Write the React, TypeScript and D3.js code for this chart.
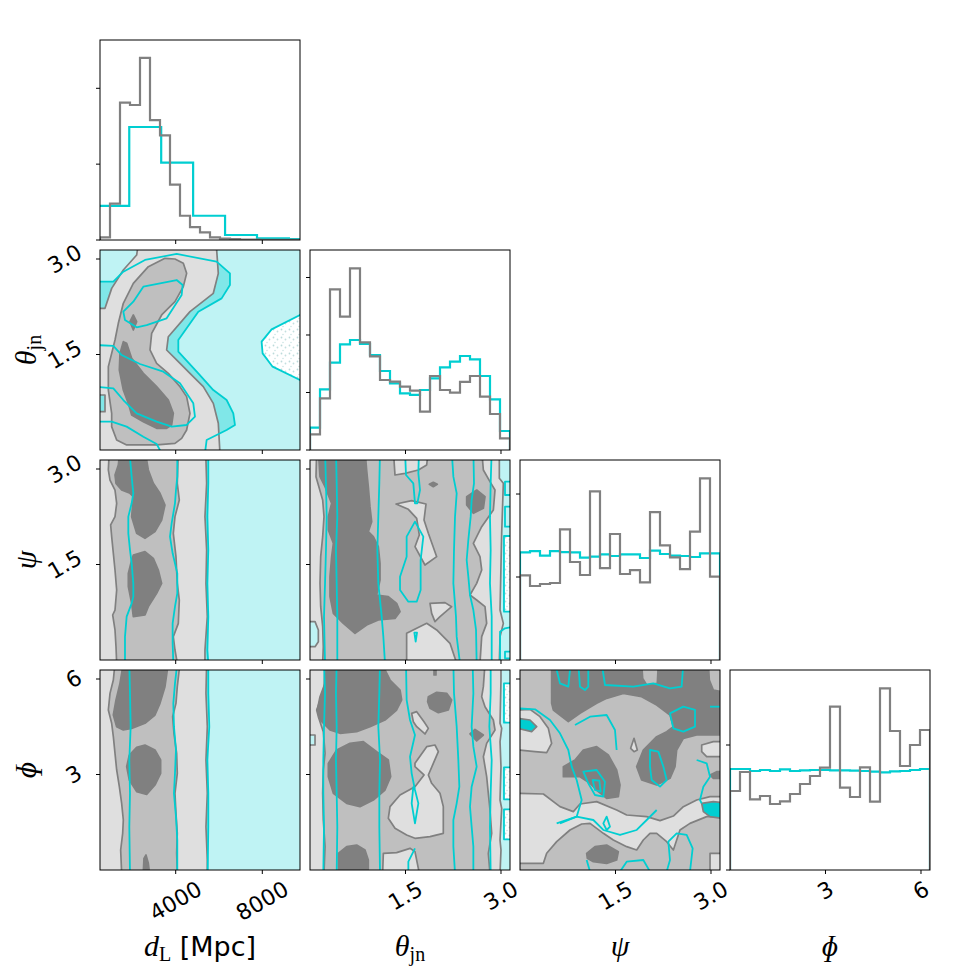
import React from 'react';
import * as d3 from 'd3';

const GRAY = '#808080';
const CYAN = '#00ced1';
const GRAY_FILL = ['none', '#dfdfdf', '#bfbfbf', '#808080'];
const CYAN_FILL = ['url(#dots)', '#bff3f4', '#80e7e8', '#00ced1'];

const LEFT = 100, TOP = 40, SIZE = 200, STEP = 210;

// axis ranges
const DL_RANGE = [504, 9741];
const TH_RANGE = [0, Math.PI];
const PSI_RANGE = [0, Math.PI];
const PHI_RANGE = [0, 2 * Math.PI];
const RANGES = [DL_RANGE, TH_RANGE, PSI_RANGE, PHI_RANGE];
const TICKS = [[4000, 8000], [1.5, 3.0], [1.5, 3.0], [3, 6]];
const TICK_LABELS = [['4000', '8000'], ['1.5', '3.0'], ['1.5', '3.0'], ['3', '6']];

// 1D histograms
const HIST_DL_GRAY = [0.035, 0.48, 1.81, 1.78, 2.40, 1.58, 1.38, 0.73, 0.32, 0.17, 0.10, 0.035, 0.018, 0.013, 0.006, 0.004, 0.003, 0.002, 0.002, 0.001];
const HIST_DL_CYAN_EDGES = [380, 1855, 3330, 4805, 6280, 7755, 9230, 10705];
const HIST_DL_CYAN = [0.45, 1.49, 1.02, 0.32, 0.066, 0.022, 0.013];
const HIST_TH_GRAY = [0.272, 0.899, 2.794, 2.319, 3.159, 1.872, 1.629, 1.217, 1.188, 1.101, 1.032, 0.667, 1.287, 1.043, 0.997, 1.183, 1.287, 0.928, 0.626, 0.203];
const HIST_TH_CYAN = [0.388, 1.055, 1.519, 1.838, 1.913, 1.843, 1.652, 1.374, 1.159, 0.986, 0.957, 1.043, 1.246, 1.438, 1.536, 1.635, 1.577, 1.287, 0.881, 0.330];
const HIST_PSI_GRAY = [1.020, 0.892, 0.916, 0.928, 1.574, 1.181, 1.024, 2.032, 1.108, 1.518, 1.036, 1.084, 0.936, 1.783, 1.382, 1.237, 1.096, 1.546, 2.189, 1.004];
const HIST_PSI_CYAN = [1.297, 1.313, 1.257, 1.313, 1.301, 1.297, 1.233, 1.245, 1.273, 1.253, 1.273, 1.273, 1.229, 1.317, 1.277, 1.257, 1.253, 1.241, 1.285, 1.285];
const HIST_PHI_GRAY = [0.632, 0.784, 0.565, 0.592, 0.528, 0.549, 0.608, 0.688, 0.752, 0.819, 1.307, 0.659, 0.584, 0.821, 0.547, 1.453, 1.112, 0.832, 1.0, 1.12];
const HIST_PHI_CYAN = [0.808, 0.808, 0.792, 0.8, 0.792, 0.805, 0.792, 0.797, 0.8, 0.8, 0.797, 0.797, 0.795, 0.792, 0.787, 0.781, 0.789, 0.792, 0.8, 0.808];
const HIST_YMAX = [2.637, 3.478, 2.41, 1.6];
const HIST_YTICKS = [[0, 1, 2], [0, 1, 2, 3], [0, 1, 2], [0, 1]];

// ---- 2D contours: flat [x, y, x, y, ...] in data units ----
// d_L vs theta_jn
const A_C2 = [300, 2.644, 1120, 2.644, 1581, 2.801, 2582, 2.985, 4044, 3.079, 5891, 2.958, 6506, 2.775, 6506, 2.592, 6121, 2.382, 5044, 2.173, 4121, 1.728, 4121, 1.545, 5044, 1.204, 5737, 0.942, 6352, 0.785, 6660, 0.576, 6737, 0.393, 6352, 0.314, 5429, 0.157, 5352, -0.05, 300, -0.05];
const A_C0 = [9900, 2.14, 9738, 2.121, 8430, 1.895, 7968, 1.702, 8014, 1.518, 8476, 1.309, 9738, 1.100, 9900, 1.09];
const A_G1 = [2300, 3.3, 2197, 3.063, 1581, 2.827, 1043, 2.539, 735, 2.225, 300, 2.225, 300, -0.05, 6044, -0.05, 5968, 0.419, 5737, 0.733, 5275, 0.995, 4659, 1.204, 4121, 1.388, 3582, 1.571, 3659, 1.780, 4659, 2.173, 5737, 2.461, 5968, 2.775, 5860, 3.3];
const A_G2 = [3505, 3.011, 2736, 2.880, 2043, 2.618, 1581, 2.304, 1350, 1.990, 1197, 1.728, 889, 1.309, 889, 0.942, 1043, 0.576, 1043, 0.367, 1274, 0.157, 1735, 0.079, 3120, 0.079, 3967, 0.105, 4275, 0.183, 4505, 0.314, 4659, 0.576, 4505, 0.838, 4198, 0.995, 3659, 1.204, 3120, 1.361, 2813, 1.571, 2890, 1.833, 3351, 2.121, 3967, 2.330, 4352, 2.566, 4505, 2.775, 4352, 2.932, 3967, 3.000];
const A_G3a = [1581, 1.702, 1735, 1.676, 1966, 1.440, 2505, 1.204, 3120, 0.995, 3659, 0.785, 3890, 0.576, 3813, 0.393, 3582, 0.340, 3120, 0.340, 2505, 0.445, 1966, 0.550, 1812, 0.733, 1581, 0.942, 1397, 1.257, 1427, 1.518];
const A_G3b = [2043, 2.121, 2197, 2.016, 2043, 1.885, 1889, 2.016];
const A_HOLE = [300, 0.864, 735, 0.864, 735, 0.602, 300, 0.602];
const A_L3a = [1581, 2.173, 2043, 2.330, 2505, 2.566, 4044, 2.670, 4321, 2.592, 4275, 2.435, 3582, 2.068, 2659, 1.963, 2197, 1.927, 1658, 2.042];
const A_L3b = [300, 1.649, 1120, 1.634, 1504, 1.492, 2351, 1.351, 3428, 1.230, 4198, 1.047, 4813, 0.733, 4890, 0.524, 4505, 0.393, 3813, 0.367, 3120, 0.445, 2197, 0.576, 1581, 0.785, 1120, 0.969, 300, 0.995];
const A_L3c = [300, 0.445, 1043, 0.445, 1735, 0.367, 2505, 0.209, 3120, 0.094, 3351, -0.05];

// d_L vs psi
const B_C2 = [300, 3.3, 5506, 3.3, 5506, -0.05, 300, -0.05];
const B_G1 = [300, 3.3, 5398, 3.3, 5398, 3.142, 5429, 2.775, 5352, 2.252, 5429, 1.728, 5398, 1.204, 5460, 0.681, 5352, 0.157, 5352, -0.05, 300, -0.05];
const B_G2 = [935, 3.3, 889, 2.985, 966, 2.827, 1197, 2.670, 1274, 2.461, 1197, 2.252, 996, 2.121, 1043, 1.937, 1120, 1.676, 1197, 1.414, 1274, 1.100, 1197, 0.785, 1089, 0.707, 1197, 0.472, 1243, 0.209, 1274, -0.05, 4074, -0.05, 3967, 0.157, 3890, 0.367, 4121, 0.576, 4167, 0.942, 4074, 1.204, 4013, 1.623, 3890, 1.990, 3967, 2.252, 4167, 2.513, 4074, 2.775, 4121, 3.3];
const B_G3a = [1427, 3.3, 2582, 3.3, 2736, 2.985, 2966, 2.775, 3274, 2.618, 3505, 2.435, 3351, 2.199, 3043, 2.016, 2582, 1.911, 2197, 1.990, 1966, 2.252, 2043, 2.566, 1889, 2.618, 1504, 2.670, 1243, 2.775, 1197, 2.906, 1350, 3.063];
const B_G3b = [2043, 1.649, 2582, 1.702, 2966, 1.597, 3197, 1.414, 3351, 1.204, 3120, 1.047, 2736, 0.838, 2582, 0.707, 2043, 0.681, 1966, 0.890, 1812, 1.152, 1812, 1.361, 1966, 1.571];
const B_L1 = [1858, 3.3, 1966, 2.880, 2043, 2.618, 1966, 2.461, 1812, 2.252, 1812, 1.990, 1889, 1.728, 1966, 1.518, 2043, 1.204, 2043, 0.995, 1966, 0.890, 1735, 0.681, 1658, 0.367, 1658, -0.05];
const B_L2 = [4074, 3.3, 4074, 2.880, 4013, 2.670, 3967, 2.461, 3813, 2.147, 3736, 1.937, 3859, 1.676, 4074, 1.361, 4074, 1.047, 3967, 0.838, 3859, 0.576, 3859, 0.262, 3890, -0.05];
const B_L3 = [5506, 3.3, 5506, 2.775, 5460, 2.252, 5506, 1.728, 5460, 1.204, 5506, 0.681, 5460, 0.157, 5506, -0.05];

// d_L vs phi
const C_C2 = [300, 6.5, 5506, 6.5, 5506, -0.1, 300, -0.1];
const C_G1 = [300, 6.5, 5429, 6.5, 5398, 5.550, 5460, 4.503, 5398, 3.456, 5460, 2.409, 5398, 1.361, 5460, 0.314, 5460, -0.1, 300, -0.1];
const C_G2 = [1197, 6.5, 1120, 5.969, 966, 5.550, 889, 5.027, 1043, 4.608, 1120, 4.189, 1197, 3.665, 1274, 3.142, 1397, 2.618, 1504, 2.094, 1581, 1.571, 1551, 1.152, 1458, 0.628, 1504, -0.1, 4074, -0.1, 4044, 0.524, 4074, 1.152, 4013, 1.780, 3967, 2.409, 4074, 3.037, 4044, 3.665, 3920, 4.294, 3859, 4.817, 4013, 5.236, 4074, 5.760, 4198, 6.5];
const C_G3a = [1581, 6.5, 3659, 6.5, 3505, 5.760, 3274, 5.236, 3043, 4.869, 2582, 4.608, 1966, 4.450, 1581, 4.398, 1274, 4.503, 1120, 4.869, 1243, 5.341, 1427, 5.864];
const C_G3b = [2197, 3.854, 2582, 3.927, 3043, 3.770, 3305, 3.456, 3305, 3.037, 3043, 2.670, 2659, 2.377, 2197, 2.461, 1858, 2.827, 1735, 3.246, 1858, 3.613];
const C_G3c = [2505, -0.05, 2535, 0.367, 2628, 0.471, 2736, 0.209, 2782, -0.05];
const C_L1 = [1858, 6.5, 1889, 5.550, 1920, 4.503, 1858, 3.456, 1889, 2.409, 1858, 1.361, 1889, -0.1];
const C_L2 = [4074, 6.5, 3967, 5.864, 3890, 5.236, 3920, 4.503, 4013, 3.770, 3967, 3.037, 3920, 2.409, 4013, 1.676, 4074, 0.942, 4074, -0.1];
const C_L3 = [5506, 6.5, 5506, 5.550, 5552, 4.503, 5460, 3.456, 5506, 2.409, 5506, 1.361, 5475, -0.1];

// theta_jn vs psi
const D_C0 = [3.047, 1.948, 3.2, 1.948, 3.2, 0.759, 3.047, 0.759];
const D_G1 = [-0.1, 3.3, 2.974, 3.3, 2.974, 2.854, 3.037, 2.775, 3.011, 1.990, 2.985, 0.785, 3.037, 0.576, 2.985, 0.367, 2.974, -0.05, -0.1, -0.05];
const D_HOLE = [-0.03, 0.602, 0.079, 0.602, 0.131, 0.472, 0.131, 0.288, 0.079, 0.209, -0.03, 0.209];
const D_G2 = [0.105, 3.3, 0.094, 2.880, 0.199, 2.513, 0.220, 2.252, 0.199, 1.937, 0.168, 1.623, 0.157, 1.204, 0.168, 0.838, 0.199, 0.524, 0.209, 0.209, 0.199, -0.05, 2.670, -0.05, 2.697, 0.367, 2.775, 0.576, 2.749, 0.838, 2.618, 0.942, 2.513, 1.021, 2.618, 1.204, 2.697, 1.414, 2.670, 1.623, 2.566, 1.833, 2.697, 2.094, 2.880, 2.356, 2.906, 2.670, 2.827, 2.801, 2.723, 2.985, 2.697, 3.3];
const D_I1 = [1.309, 3.3, 1.859, 3.3, 1.833, 3.063, 1.702, 2.985, 1.492, 2.932, 1.335, 2.906];
const D_I2 = [1.351, 2.450, 1.597, 2.503, 1.822, 2.450, 1.791, 2.199, 1.859, 1.990, 1.990, 1.623, 1.806, 1.492, 1.649, 1.780, 1.717, 1.963, 1.676, 2.225, 1.545, 2.367];
const D_I3 = [1.885, 0.890, 2.121, 0.901, 2.225, 0.838, 2.042, 0.681, 1.963, 0.602, 1.911, 0.733];
const D_I4 = [1.518, 0.419, 1.833, 0.576, 1.990, 0.472, 2.199, 0.262, 2.304, -0.05, 1.518, -0.05];
const D_G3a = [0.131, 3.3, 0.864, 3.3, 0.890, 2.985, 0.916, 2.723, 0.942, 2.409, 0.969, 2.173, 0.916, 2.016, 0.995, 1.937, 1.073, 1.780, 1.100, 1.518, 1.100, 1.257, 1.047, 1.021, 1.230, 0.995, 1.361, 0.890, 1.414, 0.759, 1.335, 0.654, 1.073, 0.628, 0.890, 0.550, 0.707, 0.419, 0.524, 0.576, 0.367, 0.733, 0.314, 0.995, 0.314, 1.309, 0.340, 1.623, 0.367, 1.833, 0.288, 2.042, 0.288, 2.252, 0.340, 2.461, 0.236, 2.723, 0.157, 2.880];
const D_G3b = [2.461, 2.566, 2.618, 2.670, 2.749, 2.566, 2.723, 2.382, 2.566, 2.304, 2.461, 2.435];
const D_G3c = [1.874, 2.759, 1.937, 2.791, 2.0, 2.759, 1.937, 2.723];
const D_L1 = [0.236, 3.3, 0.251, 2.775, 0.262, 2.252, 0.251, 1.728, 0.236, 1.204, 0.220, 0.681, 0.236, -0.05];
const D_L2 = [0.408, 3.3, 0.419, 2.775, 0.429, 2.252, 0.408, 1.728, 0.419, 1.204, 0.429, 0.681, 0.429, -0.05];
const D_L3 = [1.100, 3.3, 1.089, 2.775, 1.073, 2.252, 1.058, 1.728, 1.073, 1.204, 1.126, 0.681, 1.152, 0.367, 1.178, -0.05];
const D_L4 = [1.492, 3.3, 1.508, 2.906, 1.623, 2.775, 1.649, 2.461, 1.686, 2.461, 1.728, 2.670, 1.702, 2.932, 1.712, 3.3];
const D_L5 = [1.649, 2.173, 1.780, 1.937, 1.738, 1.571, 1.738, 1.100, 1.676, 0.916, 1.545, 0.916, 1.414, 1.100, 1.414, 1.309, 1.518, 1.623, 1.518, 1.937];
const D_L6 = [1.639, 0.429, 1.660, 0.288, 1.681, 0.429];
const D_L7 = [2.225, 3.3, 2.252, 2.880, 2.304, 2.618, 2.278, 2.252, 2.262, 1.728, 2.252, 1.204, 2.293, 0.681, 2.304, 0.367, 2.356, -0.05];
const D_L8 = [2.566, 3.3, 2.576, 2.775, 2.539, 2.513, 2.524, 2.252, 2.487, 1.885, 2.461, 1.571, 2.487, 1.309, 2.513, 1.021, 2.566, 0.785, 2.608, 0.472, 2.618, -0.05];
const D_L9 = [2.854, 3.3, 2.838, 2.775, 2.827, 2.252, 2.838, 1.728, 2.827, 1.204, 2.854, 0.681, 2.854, -0.05];
const D_B1 = [3.063, 2.801, 3.2, 2.801, 3.2, 2.592, 3.063, 2.592];
const D_B2 = [3.063, 2.409, 3.2, 2.409, 3.2, 2.094, 3.063, 2.094];
const D_B4 = [2.985, -0.05, 2.985, 0.445, 3.063, 0.497, 3.2, 0.524];
const D_B5 = [3.063, 0.131, 3.2, 0.131, 3.2, 0.026, 3.063, 0.026];

// theta_jn vs phi
const E_C0a = [3.047, 5.864, 3.2, 5.864, 3.2, 4.629, 3.047, 4.629];
const E_C0b = [3.047, 3.225, 3.2, 3.225, 3.2, 2.220, 3.047, 2.220];
const E_C0c = [3.047, 1.906, 3.2, 1.906, 3.2, 0.963, 3.047, 0.963];
const E_G1 = [-0.1, 6.5, 3.000, 6.5, 3.000, 5.969, 2.985, 4.608, 3.011, 4.450, 2.985, 4.032, 3.000, 3.246, 2.985, 2.199, 3.011, 1.937, 2.985, 0.942, 3.000, 0.628, 2.985, -0.1, -0.1, -0.1];
const E_HOLE = [-0.03, 4.241, 0.079, 4.241, 0.079, 3.927, -0.03, 3.927];
const E_G2 = [0.236, 6.5, 0.220, 5.655, 0.105, 5.027, 0.131, 4.817, 0.209, 4.346, 0.236, 3.665, 0.209, 3.142, 0.199, 2.409, 0.209, 1.571, 0.236, 0.733, 0.220, -0.1, 2.827, -0.1, 2.801, 0.524, 2.854, 1.152, 2.827, 1.885, 2.801, 2.409, 2.775, 2.932, 2.723, 3.560, 2.775, 3.979, 2.906, 4.398, 2.880, 4.712, 2.749, 5.131, 2.697, 5.445, 2.723, 5.760, 2.749, 6.5];
const E_I1 = [1.597, 4.922, 1.676, 4.974, 1.791, 4.660, 1.859, 4.450, 1.806, 4.273, 1.676, 4.503, 1.623, 4.660];
const E_I2 = [1.649, 3.351, 1.833, 3.875, 1.963, 3.927, 2.016, 3.718, 1.937, 3.351, 1.859, 2.985, 1.911, 2.723, 2.042, 2.409, 2.094, 1.990, 2.094, 1.152, 1.885, 1.047, 1.649, 0.995, 1.518, 1.100, 1.335, 1.309, 1.230, 1.623, 1.257, 1.990, 1.414, 2.356, 1.649, 2.618, 1.791, 2.985, 1.649, 3.246];
const E_I3 = [1.141, -0.1, 1.152, 0.524, 1.361, 0.545, 1.571, 0.681, 1.649, 0.576, 1.717, -0.1];
const E_G3a = [0.262, 6.5, 1.126, 6.5, 1.257, 5.969, 1.414, 5.655, 1.440, 5.341, 1.361, 5.027, 1.178, 4.712, 0.942, 4.503, 0.733, 4.346, 0.471, 4.294, 0.314, 4.398, 0.157, 4.712, 0.115, 5.027, 0.157, 5.445, 0.236, 5.864];
const E_G3b = [0.628, 3.979, 0.838, 4.032, 1.047, 3.718, 1.230, 3.456, 1.267, 2.932, 1.178, 2.513, 0.995, 2.199, 0.785, 1.990, 0.576, 2.094, 0.367, 2.409, 0.288, 2.932, 0.288, 3.351, 0.419, 3.770];
const E_G3c = [0.445, -0.1, 0.445, 0.524, 0.576, 0.733, 0.733, 0.785, 0.864, 0.628, 0.916, 0.314, 0.916, -0.1];
const E_G3d = [1.859, 5.445, 1.990, 5.581, 2.147, 5.550, 2.225, 5.341, 2.173, 5.027, 2.016, 4.943, 1.885, 5.079, 1.848, 5.288];
const E_G3e = [2.513, 4.273, 2.592, 4.419, 2.723, 4.241, 2.618, 4.053];
const E_G3f = [1.948, 6.5, 1.979, 6.5, 1.979, 6.126, 1.948, 6.126];
const E_L1 = [0.220, 6.5, 0.236, 5.550, 0.220, 4.503, 0.209, 3.456, 0.209, 2.409, 0.220, 1.361, 0.209, -0.1];
const E_L2 = [0.419, 6.5, 0.408, 5.550, 0.419, 4.503, 0.408, 3.456, 0.419, 2.409, 0.429, 1.361, 0.419, -0.1];
const E_L3 = [1.100, 6.5, 1.089, 5.550, 1.073, 4.503, 1.100, 3.456, 1.089, 2.409, 1.089, 1.361, 1.100, -0.1];
const E_L4 = [1.508, 6.5, 1.518, 5.341, 1.571, 4.712, 1.649, 4.241, 1.571, 3.560, 1.597, 3.037, 1.649, 2.513, 1.702, 2.094, 1.649, 1.466, 1.597, 2.094, 1.623, 2.618];
const E_L5 = [1.649, 0.681, 1.545, 0.262, 1.545, -0.1];
const E_L6 = [2.252, 6.5, 2.262, 5.550, 2.304, 4.503, 2.330, 3.456, 2.346, 2.618, 2.304, 2.094, 2.252, 1.571, 2.252, 0.733, 2.278, -0.1];
const E_L7 = [2.555, 6.5, 2.566, 5.550, 2.539, 4.503, 2.566, 3.875, 2.618, 3.246, 2.539, 2.618, 2.513, 1.990, 2.539, 1.361, 2.566, 0.733, 2.566, -0.1];
const E_L8 = [2.838, 6.5, 2.838, 5.550, 2.817, 4.503, 2.854, 3.456, 2.838, 2.409, 2.827, 1.361, 2.838, -0.1];

// psi vs phi
const F_I1 = [-0.03, 5.027, 0.157, 5.048, 0.314, 4.817, 0.445, 4.450, 0.497, 3.979, 0.419, 3.686, 0.236, 3.718, -0.03, 3.770];
const F_I2 = [-0.03, 2.409, 0.367, 2.388, 0.628, 1.990, 0.838, 1.833, 0.942, 2.073, 1.204, 2.147, 1.518, 1.885, 1.676, 1.728, 1.990, 1.676, 2.199, 1.550, 2.409, 1.696, 2.566, 1.990, 2.775, 2.199, 2.985, 2.304, 3.168, 2.304, 3.168, 1.676, 2.932, 1.676, 2.670, 1.466, 2.513, 1.257, 2.461, 0.942, 2.409, 0.628, 2.304, 0.890, 2.147, 1.152, 2.042, 1.152, 1.937, 0.942, 1.833, 0.628, 1.676, 0.733, 1.466, 0.942, 1.309, 1.152, 1.100, 1.466, 0.969, 1.445, 0.785, 1.257, 0.576, 0.890, 0.419, 0.524, 0.367, 0.209, -0.03, 0.209];
const F_I3 = [2.985, 0.524, 3.168, 0.524, 3.168, -0.05, 2.985, -0.05];
const F_I4 = [2.854, 3.927, 3.037, 4.032, 3.168, 4.032, 3.168, 3.560, 2.932, 3.560, 2.854, 3.718];
const F_I5 = [1.738, 3.822, 1.791, 4.136, 1.843, 3.770, 1.791, 3.718];
const F_G3a = [0.497, 6.5, 3.168, 6.5, 3.168, 4.241, 2.775, 4.241, 2.566, 4.136, 2.461, 3.770, 2.435, 3.246, 2.356, 2.880, 2.147, 2.670, 1.911, 2.827, 1.833, 3.246, 1.937, 3.770, 2.147, 4.189, 2.304, 4.346, 2.409, 4.503, 2.356, 4.869, 2.147, 5.183, 1.911, 5.445, 1.623, 5.550, 1.361, 5.393, 1.204, 5.236, 0.942, 4.922, 0.759, 4.660, 0.524, 5.027, 0.497, 5.236];
const F_N1 = [1.911, 6.5, 2.173, 6.5, 2.157, 5.864, 1.990, 5.812, 1.927, 6.021];
const F_N2 = [2.958, 6.5, 3.168, 6.5, 3.168, 5.602, 3.037, 5.655, 2.974, 5.969];
const F_G3b = [0.681, 3.246, 0.864, 3.456, 0.995, 3.770, 1.204, 3.875, 1.387, 3.613, 1.518, 3.142, 1.571, 2.670, 1.545, 2.304, 1.361, 2.251, 1.230, 2.461, 1.100, 2.723, 0.942, 2.932, 0.681, 2.932];
const F_G3c = [1.047, 0.524, 1.178, 0.733, 1.361, 0.785, 1.545, 0.576, 1.518, 0.314, 1.361, 0.209, 1.152, 0.262, 1.058, 0.367];
const F_G3d = [2.985, 2.985, 3.089, 3.089, 3.168, 3.089, 3.168, 2.880, 3.037, 2.880];
const F_HOLE1 = [-0.03, 4.765, 0.157, 4.712, 0.262, 4.503, 0.183, 4.346, -0.03, 4.450];
const F_HOLE2 = [2.854, 2.094, 3.037, 2.147, 3.168, 2.115, 3.168, 1.623, 2.985, 1.676, 2.880, 1.833];
const F_L1 = [0.550, 6.5, 0.628, 5.864, 0.759, 5.760, 0.796, 6.5];
const F_L2 = [0.916, 6.5, 0.942, 5.760, 1.021, 5.655, 1.073, 5.760, 1.073, 6.5];
const F_L3 = [1.283, 6.5, 1.335, 5.812, 1.780, 5.760, 2.094, 5.864, 2.356, 5.707, 2.539, 5.760, 2.566, 6.5];
const F_L4 = [-0.05, 5.079, 0.236, 5.048, 0.471, 4.712, 0.628, 4.294, 0.759, 3.770, 0.812, 3.246, 0.890, 2.827, 0.969, 2.199, 0.890, 1.676, 0.628, 1.466];
const F_L5 = [0.864, 4.555, 1.100, 4.817, 1.361, 4.869, 1.492, 4.398, 1.518, 3.770];
const F_L6 = [0.995, 3.089, 1.204, 3.142, 1.335, 2.775, 1.309, 2.304, 1.178, 2.356, 1.073, 2.723];
const F_L6b = [1.141, 2.827, 1.246, 2.806, 1.267, 2.461, 1.178, 2.513];
const F_L7 = [2.356, 4.922, 2.566, 5.131, 2.749, 5.027, 2.749, 4.503, 2.566, 4.346, 2.409, 4.451];
const F_L8 = [2.042, 3.770, 2.173, 3.718, 2.252, 3.246, 2.304, 2.827, 2.199, 2.618, 2.068, 2.827, 2.042, 3.246];
const F_L9 = [0.576, 1.466, 0.890, 1.676, 1.152, 1.571, 1.309, 1.257, 1.571, 1.100, 1.833, 1.257, 1.990, 1.571, 2.147, 1.885];
const F_L10 = [1.361, 1.676, 1.414, 1.361, 1.361, 1.257, 1.309, 1.466];
const F_L11 = [1.571, -0.05, 1.676, 0.262, 1.937, 0.314, 2.042, -0.05];
const F_L12 = [2.304, -0.05, 2.356, 0.314, 2.330, 0.890, 2.461, 1.152, 2.618, 1.100, 2.712, 0.681, 2.670, -0.05];
const F_L13 = [2.775, 3.456, 2.932, 3.351, 2.985, 2.932, 2.880, 2.618, 2.827, 2.199, 2.854, 2.094];
const F_L14 = [2.985, 5.131, 3.2, 5.131];
const F_L15 = [1.047, 0.314, 1.100, -0.05];

type Shape = { lv: number; d: number[] | 'all' };
type LineSpec = { d: number[]; closed?: boolean };
type PanelSpec = { row: number; col: number; cyanFill: Shape[]; gray: Shape[]; holes: Shape[]; cyanLines: LineSpec[] };

const PANELS: PanelSpec[] = [
  {
    row: 1, col: 0,
    cyanFill: [{ lv: 1, d: 'all' }, { lv: 2, d: A_C2 }, { lv: 0, d: A_C0 }],
    gray: [{ lv: 1, d: A_G1 }, { lv: 2, d: A_G2 }, { lv: 3, d: A_G3a }, { lv: 3, d: A_G3b }],
    holes: [{ lv: 2, d: A_HOLE }],
    cyanLines: [{ d: A_C0, closed: true }, { d: A_C2, closed: true }, { d: A_L3a, closed: true }, { d: A_L3b, closed: true }, { d: A_L3c }],
  },
  {
    row: 2, col: 0,
    cyanFill: [{ lv: 1, d: 'all' }, { lv: 2, d: B_C2 }],
    gray: [{ lv: 1, d: B_G1 }, { lv: 2, d: B_G2 }, { lv: 3, d: B_G3a }, { lv: 3, d: B_G3b }],
    holes: [],
    cyanLines: [{ d: B_L1 }, { d: B_L2 }, { d: B_L3 }],
  },
  {
    row: 3, col: 0,
    cyanFill: [{ lv: 1, d: 'all' }, { lv: 2, d: C_C2 }],
    gray: [{ lv: 1, d: C_G1 }, { lv: 2, d: C_G2 }, { lv: 3, d: C_G3a }, { lv: 3, d: C_G3b }, { lv: 3, d: C_G3c }],
    holes: [],
    cyanLines: [{ d: C_L1 }, { d: C_L2 }, { d: C_L3 }],
  },
  {
    row: 2, col: 1,
    cyanFill: [{ lv: 1, d: 'all' }, { lv: 0, d: D_C0 }],
    gray: [{ lv: 1, d: D_G1 }, { lv: 2, d: D_G2 }, { lv: 1, d: D_I1 }, { lv: 1, d: D_I2 }, { lv: 1, d: D_I3 }, { lv: 1, d: D_I4 }, { lv: 3, d: D_G3a }, { lv: 3, d: D_G3b }, { lv: 3, d: D_G3c }],
    holes: [{ lv: 1, d: D_HOLE }],
    cyanLines: [{ d: D_L1 }, { d: D_L2 }, { d: D_L3 }, { d: D_L4 }, { d: D_L5, closed: true }, { d: D_L6, closed: true }, { d: D_L7 }, { d: D_L8 }, { d: D_L9 }, { d: D_B1, closed: true }, { d: D_B2, closed: true }, { d: D_C0, closed: true }, { d: D_B4 }, { d: D_B5, closed: true }],
  },
  {
    row: 3, col: 1,
    cyanFill: [{ lv: 1, d: 'all' }, { lv: 0, d: E_C0a }, { lv: 0, d: E_C0b }, { lv: 0, d: E_C0c }],
    gray: [{ lv: 1, d: E_G1 }, { lv: 2, d: E_G2 }, { lv: 1, d: E_I1 }, { lv: 1, d: E_I2 }, { lv: 1, d: E_I3 }, { lv: 3, d: E_G3a }, { lv: 3, d: E_G3b }, { lv: 3, d: E_G3c }, { lv: 3, d: E_G3d }, { lv: 3, d: E_G3e }, { lv: 3, d: E_G3f }],
    holes: [{ lv: 1, d: E_HOLE }],
    cyanLines: [{ d: E_L1 }, { d: E_L2 }, { d: E_L3 }, { d: E_L4 }, { d: E_L5 }, { d: E_L6 }, { d: E_L7 }, { d: E_L8 }, { d: E_C0a, closed: true }, { d: E_C0b, closed: true }, { d: E_C0c, closed: true }],
  },
  {
    row: 3, col: 2,
    cyanFill: [{ lv: 1, d: 'all' }],
    gray: [{ lv: 1, d: 'all' }, { lv: 2, d: 'all' }, { lv: 1, d: F_I1 }, { lv: 1, d: F_I2 }, { lv: 1, d: F_I3 }, { lv: 1, d: F_I4 }, { lv: 1, d: F_I5 }, { lv: 3, d: F_G3a }, { lv: 2, d: F_N1 }, { lv: 2, d: F_N2 }, { lv: 3, d: F_G3b }, { lv: 3, d: F_G3c }, { lv: 3, d: F_G3d }],
    holes: [{ lv: 3, d: F_HOLE1 }, { lv: 3, d: F_HOLE2 }],
    cyanLines: [{ d: F_L1 }, { d: F_L2 }, { d: F_L3 }, { d: F_L4 }, { d: F_L5 }, { d: F_L6, closed: true }, { d: F_L6b, closed: true }, { d: F_L7, closed: true }, { d: F_L8, closed: true }, { d: F_L9 }, { d: F_L10, closed: true }, { d: F_L11 }, { d: F_L12 }, { d: F_L13 }, { d: F_L14 }, { d: F_L15 }],
  },
];

const HISTS = [
  { gray: HIST_DL_GRAY, cyan: HIST_DL_CYAN, cyanEdges: HIST_DL_CYAN_EDGES },
  { gray: HIST_TH_GRAY, cyan: HIST_TH_CYAN, cyanEdges: null },
  { gray: HIST_PSI_GRAY, cyan: HIST_PSI_CYAN, cyanEdges: null },
  { gray: HIST_PHI_GRAY, cyan: HIST_PHI_CYAN, cyanEdges: null },
];

const pairs = (a: number[]): [number, number][] => {
  const r: [number, number][] = [];
  for (let i = 0; i < a.length; i += 2) r.push([a[i], a[i + 1]]);
  return r;
};

const ROT = 30;
const FS = 22;
const labelWidth = (s: string) => {
  let w = 0;
  for (const ch of s) w += ch === '.' ? 0.318 : 0.636;
  return w * FS;
};

function Panel2D({ spec }: { spec: PanelSpec }) {
  const x0 = LEFT + spec.col * STEP;
  const y0 = TOP + spec.row * STEP;
  const xs = d3.scaleLinear().domain(RANGES[spec.col]).range([x0, x0 + SIZE]);
  const ys = d3.scaleLinear().domain(RANGES[spec.row]).range([y0 + SIZE, y0]);
  const line = d3.line<[number, number]>().x((p) => xs(p[0])).y((p) => ys(p[1]));
  const rectPath = `M${x0 - 5},${y0 - 5}H${x0 + SIZE + 5}V${y0 + SIZE + 5}H${x0 - 5}Z`;
  const pathOf = (d: number[] | 'all', closed: boolean) => (d === 'all' ? rectPath : (line(pairs(d)) || '') + (closed ? 'Z' : ''));
  const clipId = `clip-${spec.row}-${spec.col}`;
  return (
    <g>
      <defs>
        <clipPath id={clipId}>
          <rect x={x0} y={y0} width={SIZE} height={SIZE} />
        </clipPath>
      </defs>
      <g clipPath={`url(#${clipId})`}>
        <rect x={x0} y={y0} width={SIZE} height={SIZE} fill="white" />
        {spec.cyanFill.map((s, i) => (
          <path key={'cf' + i} d={pathOf(s.d, true)} fill={CYAN_FILL[s.lv]} stroke="none" />
        ))}
        {spec.gray.map((s, i) => (
          <path key={'gf' + i} d={pathOf(s.d, true)} fill={GRAY_FILL[s.lv]} stroke={s.d === 'all' ? 'none' : GRAY} strokeWidth={1.7} strokeLinejoin="round" />
        ))}
        {spec.holes.map((s, i) => (
          <path key={'h' + i} d={pathOf(s.d, true)} fill={CYAN_FILL[s.lv]} stroke={GRAY} strokeWidth={1.7} strokeLinejoin="round" />
        ))}
        {spec.cyanLines.map((l, i) => (
          <path key={'cl' + i} d={pathOf(l.d, !!l.closed)} fill="none" stroke={CYAN} strokeWidth={1.8} strokeLinejoin="round" />
        ))}
      </g>
      <rect x={x0} y={y0} width={SIZE} height={SIZE} fill="none" stroke="black" strokeWidth={1} />
    </g>
  );
}

function stepPath(edges: number[], vals: number[], xs: d3.ScaleLinear<number, number>, ys: d3.ScaleLinear<number, number>) {
  let p = `M${xs(edges[0])},${ys(0)}`;
  vals.forEach((v, i) => {
    p += `L${xs(edges[i])},${ys(v)}L${xs(edges[i + 1])},${ys(v)}`;
  });
  p += `L${xs(edges[edges.length - 1])},${ys(0)}`;
  return p;
}

function Hist({ col }: { col: number }) {
  const x0 = LEFT + col * STEP;
  const y0 = TOP + col * STEP;
  const [lo, hi] = RANGES[col];
  const xs = d3.scaleLinear().domain([lo, hi]).range([x0, x0 + SIZE]);
  const ys = d3.scaleLinear().domain([0, HIST_YMAX[col]]).range([y0 + SIZE, y0]);
  const h = HISTS[col];
  const grayEdges = d3.range(h.gray.length + 1).map((i) => lo + (i * (hi - lo)) / h.gray.length);
  const cyanEdges = h.cyanEdges || d3.range(h.cyan.length + 1).map((i) => lo + (i * (hi - lo)) / h.cyan.length);
  const clipId = `hclip-${col}`;
  return (
    <g>
      <defs>
        <clipPath id={clipId}>
          <rect x={x0} y={y0 - 2} width={SIZE} height={SIZE + 2} />
        </clipPath>
      </defs>
      <g clipPath={`url(#${clipId})`}>
        <path d={stepPath(cyanEdges, h.cyan, xs, ys)} fill="none" stroke={CYAN} strokeWidth={2.2} />
        <path d={stepPath(grayEdges, h.gray, xs, ys)} fill="none" stroke={GRAY} strokeWidth={2.2} />
      </g>
      <rect x={x0} y={y0} width={SIZE} height={SIZE} fill="none" stroke="black" strokeWidth={1} />
      {HIST_YTICKS[col].map((t) => (
        <line key={'yt' + t} x1={x0} x2={x0 - 4} y1={ys(t)} y2={ys(t)} stroke="black" strokeWidth={1} />
      ))}
    </g>
  );
}

function Ticks() {
  const items: React.ReactNode[] = [];
  for (let row = 0; row < 4; row++) {
    for (let col = 0; col <= row; col++) {
      const x0 = LEFT + col * STEP;
      const y0 = TOP + row * STEP;
      const xs = d3.scaleLinear().domain(RANGES[col]).range([x0, x0 + SIZE]);
      TICKS[col].forEach((t, i) => {
        const x = xs(t);
        items.push(<line key={`xt${row}${col}${i}`} x1={x} x2={x} y1={y0 + SIZE} y2={y0 + SIZE + 4} stroke="black" strokeWidth={1} />);
        if (row === 3) {
          const lab = TICK_LABELS[col][i];
          const w = labelWidth(lab);
          const hgt = 0.73 * FS;
          const a = (ROT * Math.PI) / 180;
          const dy = w * Math.sin(a) + hgt * Math.cos(a);
          const cy = y0 + SIZE + 10 + dy / 2;
          items.push(
            <text key={`xl${col}${i}`} x={x} y={cy} transform={`rotate(${-ROT},${x},${cy})`} textAnchor="middle" dominantBaseline="central" fontFamily="DejaVu Sans" fontSize={FS}>
              {lab}
            </text>
          );
        }
      });
      if (row !== col) {
        const ys = d3.scaleLinear().domain(RANGES[row]).range([y0 + SIZE, y0]);
        TICKS[row].forEach((t, i) => {
          const y = ys(t);
          items.push(<line key={`yt${row}${col}${i}`} x1={x0} x2={x0 - 4} y1={y} y2={y} stroke="black" strokeWidth={1} />);
          if (col === 0) {
            const lab = TICK_LABELS[row][i];
            const w = labelWidth(lab);
            const hgt = 0.73 * FS;
            const a = (ROT * Math.PI) / 180;
            const dx = w * Math.cos(a) + hgt * Math.sin(a);
            const cx = x0 - 16 - dx / 2;
            items.push(
              <text key={`yl${row}${i}`} x={cx} y={y} transform={`rotate(${-ROT},${cx},${y})`} textAnchor="middle" dominantBaseline="central" fontFamily="DejaVu Sans" fontSize={FS}>
                {lab}
              </text>
            );
          }
        });
      }
    }
  }
  return <g>{items}</g>;
}

function Labels() {
  const serif = 'Liberation Serif, DejaVu Serif, serif';
  const by = 956;
  return (
    <g>
      <text x={200} y={by} textAnchor="middle" fontSize={27}>
        <tspan fontFamily={serif} fontStyle="italic" fontSize={30}>d</tspan>
        <tspan fontFamily={serif} fontSize={20} dy={5}>L</tspan>
        <tspan fontFamily="DejaVu Sans" dy={-5}> [Mpc]</tspan>
      </text>
      <text x={410} y={by} textAnchor="middle" fontSize={30} fontFamily={serif}>
        <tspan fontStyle="italic">θ</tspan>
        <tspan fontSize={20} dy={5}>jn</tspan>
      </text>
      <text x={620} y={by} textAnchor="middle" fontSize={30} fontFamily={serif} fontStyle="italic">ψ</text>
      <text x={830} y={by} textAnchor="middle" fontSize={30} fontFamily={serif} fontStyle="italic">ɸ</text>
      <text transform="translate(36,350) rotate(-90)" textAnchor="middle" fontSize={30} fontFamily={serif}>
        <tspan fontStyle="italic">θ</tspan>
        <tspan fontSize={20} dy={5}>jn</tspan>
      </text>
      <text transform="translate(36,560) rotate(-90)" textAnchor="middle" fontSize={30} fontFamily={serif} fontStyle="italic">ψ</text>
      <text transform="translate(36,770) rotate(-90)" textAnchor="middle" fontSize={30} fontFamily={serif} fontStyle="italic">ɸ</text>
    </g>
  );
}

export default function App() {
  return (
    <svg width={970} height={970} viewBox="0 0 970 970" style={{ position: 'absolute', left: 0, top: 0, background: 'white' }}>
      <defs>
        <pattern id="dots" width={8} height={8} patternUnits="userSpaceOnUse">
          <rect width={8} height={8} fill="white" />
          <circle cx={1.5} cy={1.5} r={0.9} fill="#6aaeae" opacity={0.45} />
          <circle cx={5.5} cy={3.5} r={0.9} fill="#6aaeae" opacity={0.4} />
          <circle cx={3} cy={6.5} r={0.8} fill="#6aaeae" opacity={0.35} />
        </pattern>
      </defs>
      <rect width={970} height={970} fill="white" />
      {[0, 1, 2, 3].map((c) => (
        <Hist key={c} col={c} />
      ))}
      {PANELS.map((p) => (
        <Panel2D key={`${p.row}-${p.col}`} spec={p} />
      ))}
      <Ticks />
      <Labels />
    </svg>
  );
}
